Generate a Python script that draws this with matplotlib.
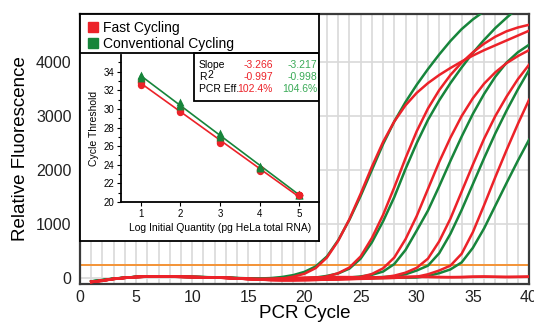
import numpy as np
import matplotlib
matplotlib.use("Agg")
import matplotlib.pyplot as plt
from matplotlib.lines import Line2D
from matplotlib.patches import Rectangle

plt.rcParams['font.family'] = ['Liberation Sans', 'DejaVu Sans']

# ------------------------------------------------------------
# Data
# ------------------------------------------------------------
cycles = list(range(1, 41))

fast_1 = [-75, -50, -18, 3, 18, 26, 28, 26, 22, 18,
          14, 9, 2, -8, -20, -30, -28, -10, 25, 80,
          185, 380, 690, 1090, 1560, 2060, 2520, 2900, 3200, 3430,
          3610, 3760, 3890, 4010, 4120, 4220, 4310, 4400, 4490, 4580]
fast_2 = [-72, -48, -16, 4, 19, 27, 29, 27, 23, 19,
          15, 10, 3, -7, -18, -28, -35, -38, -35, -25,
          -5, 30, 90, 195, 400, 740, 1170, 1680, 2220, 2720,
          3140, 3480, 3760, 3990, 4180, 4340, 4470, 4570, 4640, 4690]
fast_3 = [-70, -46, -14, 5, 20, 27, 29, 27, 23, 19,
          15, 11, 4, -6, -17, -27, -34, -38, -40, -38,
          -34, -28, -20, -8, 20, 75, 180, 380, 720, 1150,
          1650, 2150, 2600, 3000, 3330, 3600, 3810, 3980, 4110, 4220]
fast_4 = [-73, -49, -17, 3, 19, 26, 28, 26, 22, 18,
          14, 10, 3, -7, -19, -29, -36, -40, -40, -37,
          -34, -30, -25, -18, -10, 0, 15, 45, 100, 190,
          360, 680, 1100, 1600, 2100, 2580, 3000, 3360, 3680, 3950]
fast_5 = [-71, -47, -15, 4, 20, 27, 29, 27, 23, 19,
          15, 10, 4, -6, -18, -28, -35, -39, -39, -36,
          -32, -28, -24, -20, -15, -10, -4, 3, 12, 25,
          70, 140, 230, 450, 850, 1350, 1870, 2370, 2850, 3300]
fast_ntc_1 = [-74, -48, -16, 4, 19, 26, 28, 26, 22, 18,
              14, 10, 3, -6, -16, -22, -20, -12, -4, 4,
              10, 14, 16, 15, 12, 10, 12, 16, 20, 22,
              20, 16, 14, 16, 22, 26, 22, 18, 20, 24]
fast_ntc_2 = [-70, -44, -13, 6, 21, 28, 30, 28, 24, 20,
              16, 12, 6, -2, -10, -14, -12, -6, 0, 6,
              12, 16, 18, 18, 16, 14, 14, 18, 22, 24,
              22, 20, 18, 20, 26, 28, 24, 22, 24, 28]

conv_1 = [-60, -35, -10, 8, 22, 30, 32, 30, 26, 22,
          18, 14, 8, 2, -5, -8, 0, 20, 55, 115,
          215, 400, 700, 1080, 1520, 2000, 2480, 2900, 3260, 3580,
          3870, 4140, 4390, 4610, 4790, 4940, 5070, 5180, 5270, 5350]
conv_2 = [-62, -38, -12, 6, 21, 29, 31, 29, 25, 21,
          17, 12, 5, -4, -12, -18, -20, -18, -12, -5,
          10, 40, 85, 175, 360, 660, 1050, 1500, 2020, 2500,
          2930, 3290, 3610, 3900, 4170, 4410, 4630, 4820, 5000, 5150]
conv_3 = [-64, -40, -13, 6, 21, 28, 30, 28, 24, 20,
          16, 12, 6, -2, -10, -16, -20, -22, -22, -20,
          -16, -10, -2, 10, 30, 60, 120, 260, 520, 880,
          1250, 1700, 2170, 2620, 3040, 3410, 3730, 3990, 4180, 4320]
conv_4 = [-66, -42, -14, 5, 20, 27, 29, 27, 23, 19,
          15, 11, 5, -3, -11, -17, -21, -23, -23, -21,
          -18, -14, -9, -3, 4, 12, 20, 30, 70, 140,
          230, 460, 820, 1260, 1740, 2220, 2680, 3100, 3490, 3850]
conv_5 = [-65, -41, -13, 6, 21, 28, 30, 28, 24, 20,
          16, 12, 5, -3, -11, -17, -21, -23, -23, -22,
          -20, -17, -14, -10, -6, -2, 2, 5, 8, 10,
          40, 90, 160, 290, 560, 920, 1340, 1760, 2170, 2560]

threshold = 240

# standard curve inset
log_qty = [1, 2, 3, 4, 5]
fast_ct = [[32.6, 32.8, 33.0], [29.7, 29.8, 30.0], [26.3, 26.5, 26.7],
           [23.3, 23.4, 23.5], [20.7, 20.7, 20.8]]
conv_ct = [[33.3, 33.5, 33.7], [30.3, 30.5, 30.7], [27.0, 27.2, 27.4],
           [23.7, 23.8, 23.9], [20.8, 20.8, 20.9]]

stat_names = ["Slope", "R", "PCR Eff."]
fast_stats = ["-3.266", "-0.997", "102.4%"]
conv_stats = ["-3.217", "-0.998", "104.6%"]

RED = '#ec2229'
GREEN = '#17853b'
GREEN_TXT = '#3aaa57'
ORANGE = '#f39336'
FRAME = '#3a3a3a'

# ------------------------------------------------------------
# Figure / layout (pixel rectangles -> figure fractions)
# ------------------------------------------------------------
W, H = 534, 323
fig = plt.figure(figsize=(W / 100, H / 100), dpi=100)


def rect(x0, y0, x1, y1):
    return [x0 / W, 1 - y1 / H, (x1 - x0) / W, (y1 - y0) / H]


# main amplification plot
ax = fig.add_axes(rect(80, 14, 529, 284))
ax.set_xlim(0, 40)
ax.set_ylim(-110, 4890)
ax.set_xticks(range(0, 41, 5))
ax.set_xticks(range(0, 41), minor=True)
ax.set_yticks([0, 1000, 2000, 3000, 4000])
ax.grid(which='both', axis='x', color='#d9d9d9', lw=1.2)
ax.grid(which='major', axis='y', color='#d9d9d9', lw=1.2)
ax.set_axisbelow(True)
ax.tick_params(which='both', length=0, labelsize=11.5, colors='#222222')
ax.tick_params(axis='y', pad=6)
ax.tick_params(axis='x', pad=4)
for s in ax.spines.values():
    s.set_color(FRAME)
    s.set_linewidth(1.6)

ax.axhline(threshold, color=ORANGE, lw=1.4, zorder=2)

for ys in [conv_1, conv_2, conv_3, conv_4, conv_5]:
    ax.plot(cycles, ys, color=GREEN, lw=1.8, zorder=3)
for ys in [fast_ntc_1, fast_ntc_2, fast_1, fast_2, fast_3, fast_4, fast_5]:
    ax.plot(cycles, ys, color=RED, lw=1.8, zorder=4)

ax.set_xlabel("PCR Cycle", fontsize=13.5, labelpad=0)
ax.set_ylabel("Relative Fluorescence", fontsize=13.5, labelpad=5)

# white box holding legend + inset (data coords == pixels)
box = fig.add_axes(rect(80, 14, 319, 241))
box.set_xlim(80, 319)
box.set_ylim(241, 14)
box.set_xticks([])
box.set_yticks([])
for s in box.spines.values():
    s.set_color('black')
    s.set_linewidth(1.3)
box.plot([80, 319], [53, 53], color='black', lw=1.3)

handles = [Line2D([], [], marker='s', ls='', color=RED, markersize=7,
                  label="Fast Cycling"),
           Line2D([], [], marker='s', ls='', color=GREEN, markersize=7,
                  label="Conventional Cycling")]
box.legend(handles=handles, loc='upper left', bbox_to_anchor=(0.0, 1.0),
           frameon=False, fontsize=10, handlelength=0.8, handletextpad=0.35,
           labelspacing=0.12, borderaxespad=0.25, borderpad=0.25)

box.add_patch(Rectangle((194, 53), 125, 48, facecolor='white',
                        edgecolor='black', lw=1.3))
rows_y = [65, 77, 89]
for name, fv, cv, yy in zip(stat_names, fast_stats, conv_stats, rows_y):
    box.text(199, yy, name, fontsize=7.5, va='center', ha='left')
    box.text(273, yy, fv, fontsize=7.5, va='center', ha='right', color=RED)
    box.text(317, yy, cv, fontsize=7.5, va='center', ha='right',
             color=GREEN_TXT)
box.text(207, rows_y[1] - 1.5, "2", fontsize=7.5, va='center', ha='left')

# standard curve inset
ins = fig.add_axes(rect(121, 55, 319, 202))
ins.patch.set_alpha(0)
ins.set_xlim(0.5, 5.5)
ins.set_ylim(20, 35.8)
ins.set_xticks(log_qty)
ins.set_yticks(range(20, 35, 2))
ins.set_yticks(range(20, 36), minor=True)
ins.spines['top'].set_visible(False)
ins.spines['right'].set_visible(False)
for s in ['left', 'bottom']:
    ins.spines[s].set_linewidth(1.3)
ins.tick_params(which='both', labelsize=7, length=3, width=0.8, pad=2)
ins.tick_params(which='minor', length=2)

xs = np.repeat(log_qty, 3)
fast_flat = np.array(fast_ct).ravel()
conv_flat = np.array(conv_ct).ravel()
for flat, col in [(conv_flat, GREEN), (fast_flat, RED)]:
    k, b = np.polyfit(xs, flat, 1)
    ins.plot([1, 5], [k * 1 + b, k * 5 + b], color=col, lw=1.2, zorder=3)
ins.scatter(xs, fast_flat, marker='o', s=28, color=RED, zorder=4,
            linewidths=0)
ins.scatter(xs, conv_flat, marker='^', s=32, color=GREEN, zorder=5,
            linewidths=0)
ins.scatter(xs[-3:], fast_flat[-3:], marker='o', s=28, color=RED, zorder=6,
            linewidths=0)

ins.set_ylabel("Cycle Threshold", fontsize=7.5, labelpad=3)
ins.set_xlabel("Log Initial Quantity (pg HeLa total RNA)", fontsize=7.5,
               labelpad=3)

fig.savefig("out.png", dpi=100)
